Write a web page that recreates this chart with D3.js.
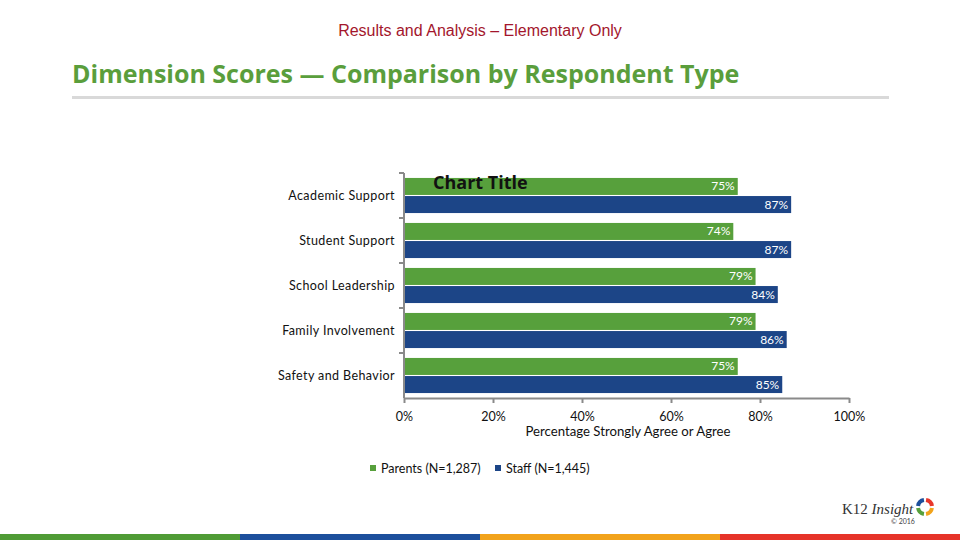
<!DOCTYPE html>
<html>
<head>
<meta charset="utf-8">
<title>Dimension Scores</title>
<script src="https://d3js.org/d3.v7.min.js"></script>
<style>
  body { margin: 0; background: #fff; }
  svg text { font-family: Lato, 'Noto Sans', sans-serif; }
  .cat { font-size: 12.5px; fill: #111; letter-spacing: 0.4px; }
  .val { font-size: 12px; fill: #fff; }
  .tick { font-size: 12px; fill: #111; }
</style>
</head>
<body>
<script>
var categories = ["Academic Support", "Student Support", "School Leadership", "Family Involvement", "Safety and Behavior"];
var seriesNames = ["Parents (N=1,287)", "Staff (N=1,445)"];
var parents = [75, 74, 79, 79, 75];
var staff = [87, 87, 84, 86, 85];
var tickValues = [0, 20, 40, 60, 80, 100];
var colors = ["#57a03c", "#1c4587"];
var stripColors = ["#4f9b35", "#1d4f9c", "#f2a31b", "#e63329"];

var w = 960, h = 540;
var svg = d3.select("body").append("svg").attr("width", w).attr("height", h);

// header
svg.append("text").attr("x", 480).attr("y", 36).attr("text-anchor", "middle")
  .style("font-family", "'Liberation Sans', Arial, sans-serif")
  .style("font-size", "16px").style("fill", "#a3162c")
  .text("Results and Analysis \u2013 Elementary Only");

svg.append("text").attr("x", 72).attr("y", 83)
  .style("font-family", "'Open Sans', sans-serif")
  .style("font-size", "25px").style("font-weight", "bold").style("fill", "#5a9e3c")
  .text("Dimension Scores \u2014 Comparison by Respondent Type");

svg.append("rect").attr("x", 72).attr("y", 96).attr("width", 817).attr("height", 3).attr("fill", "#d9d9d9");

// scales
var x = d3.scaleLinear().domain([0, 100]).range([404, 849]);
var y = d3.scaleBand().domain(categories).range([173, 398]).paddingInner(0.22).paddingOuter(0.11);
var sub = d3.scaleBand().domain([0, 1]).range([0, y.bandwidth()]).paddingInner(0.06);

var rows = categories.map(function(c, i) {
  return { cat: c, vals: [parents[i], staff[i]] };
});

var g = svg.selectAll(".grp").data(rows).enter().append("g")
  .attr("transform", function(d) { return "translate(0," + y(d.cat) + ")"; });

g.selectAll("rect").data(function(d) { return d.vals; }).enter().append("rect")
  .attr("x", x(0))
  .attr("y", function(d, i) { return sub(i); })
  .attr("width", function(d) { return x(d) - x(0); })
  .attr("height", sub.bandwidth())
  .attr("fill", function(d, i) { return colors[i]; });

g.selectAll(".val").data(function(d) { return d.vals; }).enter().append("text")
  .attr("class", "val")
  .attr("x", function(d) { return x(d) - 3; })
  .attr("y", function(d, i) { return sub(i) + sub.bandwidth() / 2 + 4; })
  .attr("text-anchor", "end")
  .text(function(d) { return d + "%"; });

// category labels
svg.selectAll(".cat").data(categories).enter().append("text")
  .attr("class", "cat")
  .attr("x", 395)
  .attr("y", function(d) { return y(d) + y.bandwidth() / 2 + 4; })
  .attr("text-anchor", "end")
  .text(function(d) { return d; });

// axes
var axisColor = "#8a8a8a";
var yAxis = d3.axisLeft(y).tickSize(5).tickFormat("");
var yg = svg.append("g").attr("transform", "translate(" + x(0) + ",0)").call(yAxis);
yg.selectAll(".tick").remove();
var bounds = categories.map(function(c) { return y(c) - y.step() * y.paddingInner() / 2; });
bounds[0] = y.range()[0];
yg.selectAll(".bnd").data(bounds).enter().append("line")
  .attr("x1", -5).attr("x2", 0)
  .attr("y1", function(d) { return d; }).attr("y2", function(d) { return d; })
  .attr("stroke", axisColor).attr("stroke-width", 2);
yg.select(".domain").attr("stroke", axisColor).attr("stroke-width", 2).attr("d", "M0," + y.range()[0] + "V" + y.range()[1]);

var xAxis = d3.axisBottom(x).tickValues(tickValues).tickSize(5).tickSizeOuter(0)
  .tickFormat(function(d) { return d + "%"; });
var xg = svg.append("g").attr("transform", "translate(0,398)").call(xAxis);
xg.select(".domain").attr("stroke", axisColor).attr("stroke-width", 2);
xg.selectAll(".tick line").attr("stroke", axisColor).attr("stroke-width", 2);
xg.selectAll(".tick text").attr("class", "tick").attr("y", 14)
  .style("font-family", "Lato, 'Noto Sans', sans-serif").style("font-size", "12.5px").attr("fill", "#111");

svg.append("text").attr("x", 628).attr("y", 436).attr("text-anchor", "middle")
  .style("font-size", "13.2px").style("fill", "#111")
  .text("Percentage Strongly Agree or Agree");

// chart title
svg.append("text").attr("x", 433).attr("y", 189)
  .style("font-family", "'Open Sans', sans-serif")
  .style("font-size", "18px").style("font-weight", "bold").style("fill", "#111")
  .text("Chart Title");

// legend
var legX = [370, 495];
var leg = svg.selectAll(".leg").data(seriesNames).enter().append("g")
  .attr("transform", function(d, i) { return "translate(" + legX[i] + ",465)"; });
leg.append("rect").attr("width", 6).attr("height", 6).attr("y", 0)
  .attr("fill", function(d, i) { return colors[i]; });
leg.append("text").attr("x", 11).attr("y", 7.5)
  .style("font-size", "12.5px").style("fill", "#111")
  .text(function(d) { return d; });

// logo
svg.append("text").attr("x", 842).attr("y", 514)
  .style("font-family", "'Liberation Serif', serif").style("font-size", "15px").style("fill", "#333")
  .text("K12 ").append("tspan").style("font-style", "italic").text("Insight");
var ringColors = ["#e8362a", "#f2a31b", "#57a03c", "#1d4f9c"];
var arc = d3.arc().innerRadius(5).outerRadius(9);
var logo = svg.append("g").attr("transform", "translate(925,507)");
ringColors.forEach(function(c, i) {
  logo.append("path")
    .attr("d", arc({ startAngle: i * Math.PI / 2 + 0.15, endAngle: (i + 1) * Math.PI / 2 - 0.15 }))
    .attr("fill", c);
});
svg.append("text").attr("x", 903).attr("y", 524).attr("text-anchor", "middle")
  .style("font-size", "7px").style("fill", "#444").text("\u00a9 2016");

// bottom strip
svg.selectAll(".strip").data(stripColors).enter().append("rect")
  .attr("x", function(d, i) { return i * 240; }).attr("y", 534)
  .attr("width", 240).attr("height", 6)
  .attr("fill", function(d) { return d; });
</script>
</body>
</html>
